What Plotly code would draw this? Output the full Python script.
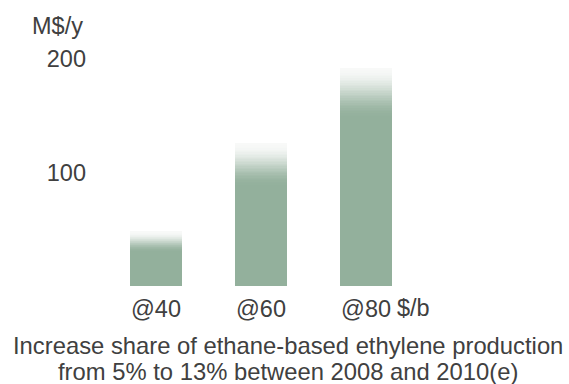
import plotly.graph_objects as go

# Annual value of the ethane switch, by crude price
categories = ["@40", "@60", "@80"]
values = [48, 125.5, 192.5]          # M$/y
fade_depth = [17.5, 37, 44]           # height of the faded cap on each bar (axis units)
y_ticks = [100, 200]
unit_y = "M$/y"
unit_x = "$/b"
caption = [
    "Increase share of ethane-based ethylene production",
    "from 5% to 13% between 2008 and 2010(e)",
]

BAR = (147, 176, 156)
TOP = (248, 249, 248)
TEXT = "#404040"
FONT = "Liberation Sans, Arial, sans-serif"
FS = 23.5
N_STEPS = 30

x = list(range(len(categories)))


def mix(t):
    return "rgb({},{},{})".format(*[round(b + (w - b) * t) for b, w in zip(BAR, TOP)])


fig = go.Figure()

# solid body of each bar
fig.add_trace(go.Bar(
    x=x, y=[v - f for v, f in zip(values, fade_depth)],
    marker=dict(color=mix(0), line=dict(width=0)),
    width=0.5, hoverinfo="skip", showlegend=False,
))

# faded cap, stacked in thin slices that lighten towards the top
for k in range(N_STEPS):
    t = (k + 0.5) / N_STEPS
    ease = t * t * (3 - 2 * t)
    fig.add_trace(go.Bar(
        x=x, y=[f / N_STEPS for f in fade_depth],
        marker=dict(color=mix(ease), line=dict(width=0)),
        width=0.5, hoverinfo="skip", showlegend=False,
    ))

fig.update_layout(
    barmode="stack",
    width=569, height=384,
    margin=dict(l=92, r=0, t=15, b=98),
    paper_bgcolor="white", plot_bgcolor="white",
    font=dict(family=FONT, size=FS, color=TEXT),
    xaxis=dict(
        range=[-0.6095, 3.933], tickvals=x, ticktext=categories,
        showgrid=False, zeroline=False, showline=False, ticks="",
        ticklabelstandoff=6,
        tickfont=dict(size=FS, color=TEXT),
    ),
    yaxis=dict(
        range=[0, 238.8], tickvals=y_ticks,
        showgrid=False, zeroline=False, showline=False, ticks="",
        ticklabelstandoff=5,
        tickfont=dict(size=FS, color=TEXT),
    ),
    bargap=0,
)

fig.add_annotation(text=unit_y, xref="paper", x=0, xanchor="right", xshift=-7,
                   yref="y", y=229, yanchor="middle", showarrow=False,
                   font=dict(size=FS, color=TEXT))
fig.add_annotation(text=unit_x, xref="x", x=x[-1], xanchor="left", xshift=29,
                   yref="paper", y=0, yanchor="top", yshift=-7, showarrow=False,
                   font=dict(size=FS, color=TEXT))
for i, line in enumerate(caption):
    fig.add_annotation(text=line, xref="paper", x=(288 - 92) / (569 - 92), xanchor="center",
                       yref="paper", y=0, yanchor="top", yshift=-44 - 26 * i,
                       showarrow=False, font=dict(size=23.8, color=TEXT))

fig.write_html("out.html")
